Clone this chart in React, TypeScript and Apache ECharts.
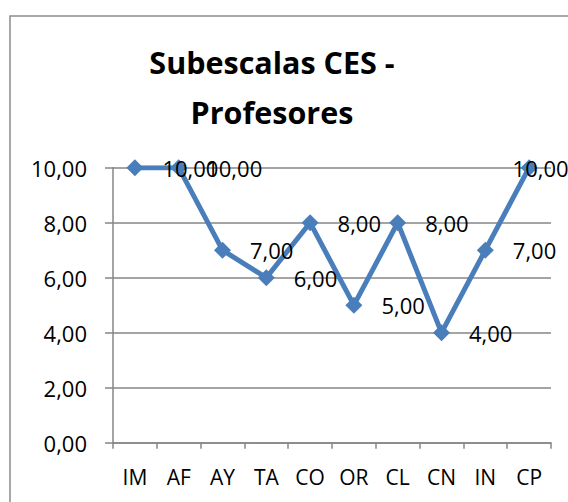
import React, { useEffect, useRef } from "react";
import * as echarts from "echarts";

const categories = ["IM", "AF", "AY", "TA", "CO", "OR", "CL", "CN", "IN", "CP"];
const values = [10, 10, 7, 6, 8, 5, 8, 4, 7, 10];
const yTicks = { min: 0, max: 10, interval: 2 };
const titleLines = ["Subescalas CES -", "Profesores"];

const fmt = (v: number) => v.toFixed(2).replace(".", ",");
const FONT = "'Open Sans', sans-serif";

export default function App() {
  const ref = useRef<HTMLDivElement>(null);
  useEffect(() => {
    if (!ref.current) return;
    const chart = echarts.init(ref.current, null, { renderer: "svg" });
    const lastIdx = values.length - 1;
    chart.setOption({
      animation: false,
      backgroundColor: "#ffffff",
      title: {
        text: titleLines.join("\n"),
        left: 267,
        top: 32,
        textAlign: "center",
        textStyle: {
          fontFamily: FONT,
          fontWeight: "bold",
          fontSize: 30.5,
          lineHeight: 50,
          color: "#000000",
        },
      },
      graphic: [
        {
          type: "rect",
          shape: { x: 10, y: 16, width: 700, height: 600 },
          style: { fill: "none", stroke: "#8c8c8c", lineWidth: 1.5 },
          silent: true,
        },
      ],
      grid: { left: 113, right: 17, top: 167.7, bottom: 59.3, containLabel: false },
      xAxis: {
        type: "category",
        data: categories,
        boundaryGap: true,
        axisLine: { show: true, lineStyle: { color: "#868686", width: 1.5 } },
        axisTick: { show: true, length: 6, inside: false, alignWithLabel: false, lineStyle: { color: "#868686", width: 1.5 } },
        axisLabel: { margin: 24, fontFamily: FONT, fontSize: 21, color: "#000000", interval: 0 },
        splitLine: { show: false },
      },
      yAxis: {
        type: "value",
        min: yTicks.min,
        max: yTicks.max,
        interval: yTicks.interval,
        axisLine: { show: true, lineStyle: { color: "#868686", width: 1.5 } },
        axisTick: { show: true, length: 8, inside: false, lineStyle: { color: "#868686", width: 1.5 } },
        axisLabel: { margin: 26, fontFamily: FONT, fontSize: 22, color: "#000000", formatter: (v: number) => fmt(v) },
        splitLine: { show: true, lineStyle: { color: "#868686", width: 1.5 } },
      },
      series: [
        {
          type: "line",
          data: values.map((v, i) =>
            i === lastIdx ? { value: v, label: { offset: [-44, 0] } } : { value: v }
          ),
          symbol: "diamond",
          symbolSize: 17,
          itemStyle: { color: "#4a7ebb" },
          lineStyle: { color: "#4a7ebb", width: 5 },
          label: {
            show: true,
            position: "right",
            distance: 19,
            fontFamily: FONT,
            fontSize: 22,
            color: "#000000",
            formatter: (p: any) => fmt(p.value),
          },
        },
      ],
    });
    return () => chart.dispose();
  }, []);
  return (
    <div
      ref={ref}
      style={{ position: "fixed", left: 0, top: 0, width: 568, height: 502 }}
    />
  );
}
